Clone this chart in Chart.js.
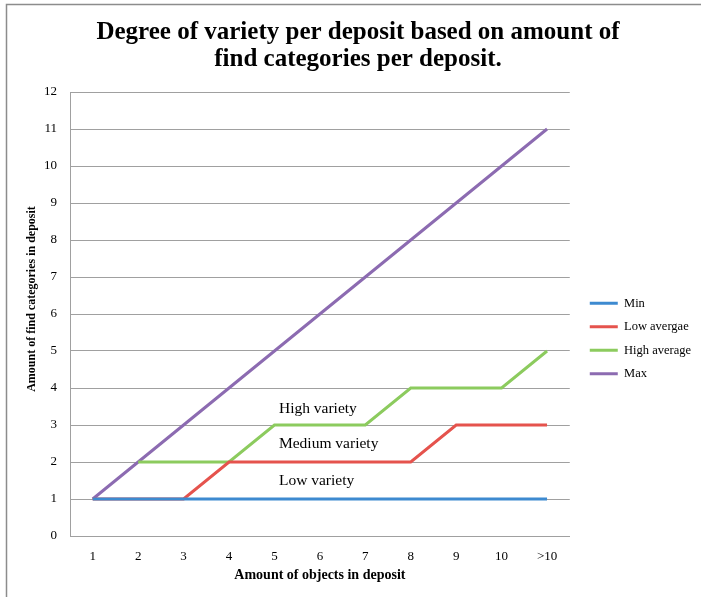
<!DOCTYPE html>
<html>
<head>
<meta charset="utf-8">
<script src="https://cdn.jsdelivr.net/npm/chart.js@4/dist/chart.umd.min.js"></script>
<style>
html,body{margin:0;padding:0;background:#fff;}
#wrap{position:relative;width:701px;height:597px;}
</style>
</head>
<body>
<div id="wrap"><canvas id="c" width="701" height="597"></canvas></div>
<script>
const categories = ["1","2","3","4","5","6","7","8","9","10",">10"];
const minValues = [1,1,1,1,1,1,1,1,1,1,1];
const lowAverage = [1,1,1,2,2,2,2,2,3,3,3];
const highAverage = [null,2,2,2,3,3,3,4,4,4,5];
const maxValues = [1,2,3,4,5,6,7,8,9,10,11];
const yTicks = [0,1,2,3,4,5,6,7,8,9,10,11,12];
const titleLines = ["Degree of variety per deposit based on amount of","find categories per deposit."];
const regionLabels = ["High variety","Medium variety","Low variety"];
const regionLabelY = [3.43, 2.49, 1.49];

const SERIF = "'Liberation Serif','Times New Roman',serif";

const framePlugin = {
  id: 'frame',
  beforeDraw(chart){
    const ctx = chart.ctx;
    ctx.save();
    ctx.fillStyle = '#fff';
    ctx.fillRect(0,0,chart.width,chart.height);
    ctx.strokeStyle = '#8c8c8c';
    ctx.lineWidth = 1.5;
    ctx.beginPath();
    ctx.moveTo(6.5, 597);
    ctx.lineTo(6.5, 4.5);
    ctx.lineTo(701, 4.5);
    ctx.stroke();
    ctx.restore();
  }
};

const boxShift = {
  id: 'boxShift',
  afterLayout(chart){
    const l = chart.legend;
    if (l) { l.left += 9; l.right += 9; l.top += 41; l.bottom += 41; }
    const t = chart.titleBlock;
    if (t) { t.left += 9; t.right += 9; }
    const ys = chart.scales.y;
    if (ys && !ys._titleShifted) {
      const orig = ys.drawTitle.bind(ys);
      ys.drawTitle = function(){
        this.ctx.save();
        this.ctx.translate(0, -15);
        orig();
        this.ctx.restore();
      };
      ys._titleShifted = true;
    }
  }
};

const regionPlugin = {
  id: 'regions',
  afterDatasetsDraw(chart){
    const ctx = chart.ctx;
    const xs = chart.scales.x, ys = chart.scales.y;
    const x0 = xs.getPixelForValue(4) + 4.5;
    ctx.save();
    ctx.font = "15.5px " + SERIF;
    ctx.fillStyle = '#000';
    ctx.textAlign = 'left';
    ctx.textBaseline = 'middle';
    regionLabels.forEach((t,i)=>{
      ctx.fillText(t, x0, ys.getPixelForValue(regionLabelY[i]));
    });
    ctx.restore();
  }
};

const mk = (label, data, color) => ({
  label, data, borderColor: color, backgroundColor: color,
  borderWidth: 3, pointRadius: 0, pointHoverRadius: 0, tension: 0, fill: false, spanGaps: false
});

new Chart(document.getElementById('c'), {
  type: 'line',
  data: {
    labels: categories,
    datasets: [
      mk('Min', minValues, '#3d8ad0'),
      mk('Low avergae', lowAverage, '#e5534d'),
      mk('High average', highAverage, '#8ccb5e'),
      mk('Max', maxValues, '#8c6bb1')
    ]
  },
  options: {
    responsive: false,
    animation: false,
    devicePixelRatio: 1,
    layout: { padding: { left: 6, right: 9, top: 8, bottom: 10 } },
    plugins: {
      title: {
        display: true,
        text: titleLines,
        color: '#000',
        font: { family: SERIF, size: 25, weight: 'bold', lineHeight: '27px' },
        padding: { top: 11, bottom: 19 }
      },
      legend: {
        position: 'right',
        align: 'center',
        labels: {
          color: '#000',
          font: { family: SERIF, size: 12.5 },
          boxWidth: 28,
          boxHeight: 3,
          padding: 11,
          generateLabels(chart){
            return Chart.defaults.plugins.legend.labels.generateLabels(chart).map(i => Object.assign(i, {lineWidth: 0}));
          }
        }
      },
      tooltip: { enabled: false }
    },
    scales: {
      x: {
        offset: true,
        afterFit(axis){ axis.height = 51; },
        grid: { display: false, drawTicks: false },
        border: { display: true, color: '#a0a0a0', width: 1 },
        ticks: { color: '#000', font: { family: SERIF, size: 13 }, padding: 13, maxRotation: 0 },
        title: { display: true, text: 'Amount of objects in deposit', color: '#000', font: { family: SERIF, size: 14, weight: 'bold' }, padding: { top: 0, bottom: 3 } }
      },
      y: {
        min: 0, max: 12,
        afterBuildTicks(axis){ axis.ticks = yTicks.map(v=>({value:v})); },
        afterFit(axis){ axis.width = 64; },
        grid: { color: '#a0a0a0', drawTicks: false, lineWidth: 1 },
        border: { display: true, color: '#a0a0a0', width: 1 },
        ticks: { color: '#000', font: { family: SERIF, size: 13 }, padding: 13 },
        title: { display: true, text: 'Amount of find categories in deposit', color: '#000', font: { family: SERIF, size: 12, weight: 'bold' }, padding: { top: 18.8, bottom: 0 } }
      }
    }
  },
  plugins: [framePlugin, boxShift, regionPlugin]
});
</script>
</body>
</html>
